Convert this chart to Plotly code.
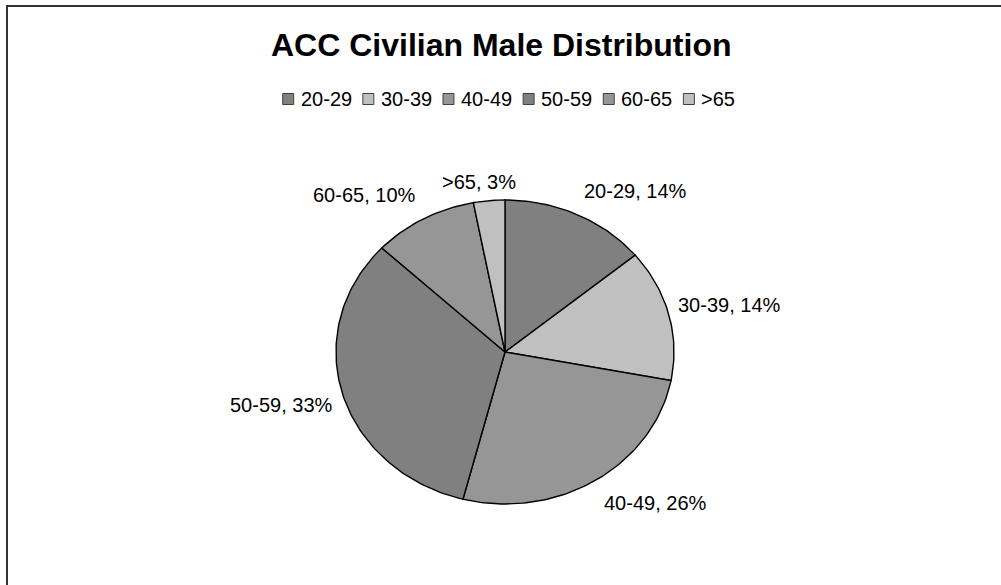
import math
import plotly.graph_objects as go

# Age bands and their share of the civilian male workforce (%)
categories = ["20-29", "30-39", "40-49", "50-59", "60-65", ">65"]
shares = [14, 14, 26, 33, 10, 3]
slice_colors = ["#808080", "#C0C0C0", "#969696", "#808080", "#969696", "#C0C0C0"]

title_text = "ACC Civilian Male Distribution"

W, H = 1001, 585
CX, CY = 505, 352          # pie centre (px)
RX, RY = 169, 152          # pie radii (px) – the pie is drawn slightly oval
FONT = "Liberation Sans, Arial, sans-serif"
LABEL_SIZE = 20

# approximate advance widths (em) for Arial-metric text
CHAR_W = {"-": 0.333, ">": 0.584, ",": 0.278, " ": 0.278, "%": 0.889}


def text_width(s, size):
    return sum(CHAR_W.get(ch, 0.556) for ch in s) * size


def edge_point(theta, scale=1.0):
    """Point on the oval rim, theta measured clockwise from 12 o'clock."""
    return (CX + scale * RX * math.sin(theta), CY - scale * RY * math.cos(theta))


fig = go.Figure()
total = float(sum(shares))
start = 0.0
annotations = []
for name, val, col in zip(categories, shares, slice_colors):
    end = start + val / total * 2 * math.pi
    n = max(4, int(val * 3))
    xs, ys = [CX], [CY]
    for k in range(n + 1):
        px, py = edge_point(start + (end - start) * k / n)
        xs.append(px)
        ys.append(py)
    xs.append(CX)
    ys.append(CY)
    fig.add_trace(go.Scatter(
        x=xs, y=ys, mode="lines", fill="toself", fillcolor=col,
        line=dict(color="#000000", width=1.4), name=name,
        showlegend=False, hoverinfo="skip",
    ))

    # outside-end data label
    label = f"{name}, {val}%"
    mid = (start + end) / 2
    s, c = math.sin(mid), math.cos(mid)
    ex, ey = edge_point(mid)
    if abs(s) > 0.3 and abs(c) > 0.3:
        # diagonal positions: box corner touches the rim
        gap = 12
        lx, ly = ex + gap * s, ey - gap * c
        xanchor = "left" if s > 0 else "right"
        yanchor = "bottom" if c > 0 else "top"
    elif abs(s) >= abs(c):
        # left / right of the pie
        gap = 8
        lx, ly = ex + gap * s, ey - gap * c - 30 * c
        xanchor = "left" if s > 0 else "right"
        yanchor = "middle"
    else:
        # above / below the pie
        gap = 6
        lx = ex + 1.5 * s * text_width(label, LABEL_SIZE)
        ly = ey - gap * c
        xanchor = "center"
        yanchor = "bottom" if c > 0 else "top"
    annotations.append(dict(
        x=lx, y=ly, xref="x", yref="y", text=label,
        showarrow=False, xanchor=xanchor, yanchor=yanchor,
        font=dict(family=FONT, size=LABEL_SIZE, color="#000000"),
    ))
    start = end

# legend row built from the categories
LEG_SIZE = 20
SQ, GAP_IN, GAP_OUT = 11, 7, 11
LEG_Y = 99
widths = [SQ + GAP_IN + text_width(cat, LEG_SIZE) for cat in categories]
total_w = sum(widths) + GAP_OUT * (len(categories) - 1)
x = 509 - total_w / 2
shapes = []
for cat, col, w in zip(categories, slice_colors, widths):
    shapes.append(dict(
        type="rect", xref="x", yref="y", x0=x, x1=x + SQ,
        y0=LEG_Y - SQ / 2, y1=LEG_Y + SQ / 2,
        fillcolor=col, line=dict(color="#404040", width=1),
    ))
    annotations.append(dict(
        x=x + SQ + GAP_IN - 2, y=LEG_Y, xref="x", yref="y", text=cat,
        showarrow=False, xanchor="left", yanchor="middle",
        font=dict(family=FONT, size=LEG_SIZE, color="#000000"),
    ))
    x += w + GAP_OUT

# title
annotations.append(dict(
    x=501, y=45, xref="x", yref="y", text=f"<b>{title_text}</b>",
    showarrow=False, xanchor="center", yanchor="middle",
    font=dict(family=FONT, size=32, color="#000000"),
))

# chart-area border
shapes.append(dict(
    type="rect", xref="x", yref="y", x0=7, y0=6, x1=W + 10, y1=H + 10,
    line=dict(color="#333333", width=2), fillcolor="rgba(0,0,0,0)", layer="above",
))

fig.update_layout(
    width=W, height=H,
    margin=dict(l=0, r=0, t=0, b=0),
    paper_bgcolor="#FFFFFF", plot_bgcolor="#FFFFFF",
    xaxis=dict(range=[0, W], visible=False, fixedrange=True),
    yaxis=dict(range=[H, 0], visible=False, fixedrange=True),
    annotations=annotations, shapes=shapes,
    showlegend=False,
)

fig.write_html("out.html", config={"displayModeBar": False})
